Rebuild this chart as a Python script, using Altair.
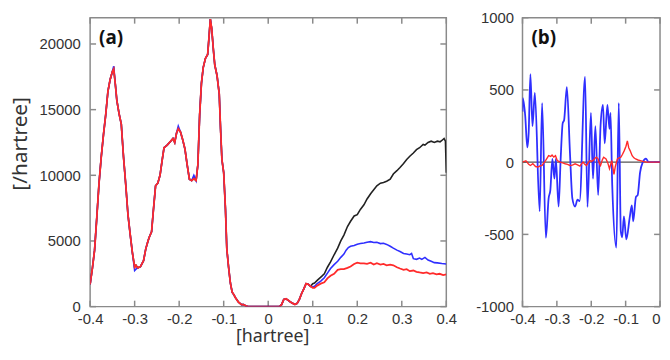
import altair as alt
import pandas as pd

# ---------------- Panel (a) data ----------------
a_low_x = [-0.400, -0.395, -0.390, -0.385, -0.380, -0.375, -0.370, -0.365, -0.360, -0.355,
           -0.350, -0.347, -0.343, -0.340, -0.335, -0.330, -0.325, -0.320, -0.315, -0.310,
           -0.305, -0.300, -0.297, -0.293, -0.287, -0.280, -0.275, -0.270, -0.267, -0.262,
           -0.258, -0.253, -0.248, -0.243, -0.238, -0.234, -0.227, -0.219, -0.214, -0.210,
           -0.206, -0.202, -0.197, -0.192, -0.187, -0.182, -0.177, -0.172, -0.167, -0.162,
           -0.158, -0.154, -0.150, -0.146, -0.141, -0.136, -0.133, -0.130, -0.127, -0.123,
           -0.120, -0.115, -0.110, -0.107, -0.104, -0.100, -0.096, -0.093, -0.089, -0.085,
           -0.081, -0.077, -0.074, -0.067, -0.060, -0.055, -0.050, -0.045, -0.030, -0.010,
           0.010, 0.025, 0.030, 0.035, 0.040, 0.045, 0.050, 0.055, 0.060, 0.065,
           0.070, 0.075, 0.080, 0.085, 0.090, 0.095]
a_low_y = [1700, 2900, 4300, 6800, 9400, 11400, 13100, 14600, 16400, 17300,
           17900, 18100, 16800, 15700, 14700, 13900, 11400, 9300, 7000, 5500,
           4100, 3000, 3150, 2950, 3050, 3500, 4400, 5000, 5300, 5700,
           7300, 9200, 9400, 10000, 11200, 12100, 12300, 12600, 12800, 12500,
           13200, 13550, 13300, 12700, 12000, 10800, 9700, 9600, 9750, 9600,
           10800, 14600, 17000, 18200, 18900, 19200, 20500, 21900, 21200, 19500,
           18400, 17600, 16200, 13500, 11200, 10200, 7400, 4400, 3000, 1800,
           1100, 900, 700, 350, 150, 150, 50, 0, 0, 0,
           0, 0, 150, 550, 600, 480, 350, 250, 170, 250,
           550, 1000, 1350, 1750, 1700, 1550]
a_blue_low_adjust = {-0.347: 18300, -0.300: 2750, -0.297: 2850, -0.202: 13750, -0.167: 10000}

a_black_hi_x = [0.100, 0.104, 0.110, 0.115, 0.120, 0.126, 0.133, 0.140, 0.148, 0.156, 0.163, 0.170,
                0.178, 0.185, 0.193, 0.200, 0.207, 0.215, 0.222, 0.230, 0.237, 0.244, 0.252, 0.259,
                0.266, 0.274, 0.281, 0.289, 0.296, 0.304, 0.311, 0.318, 0.326, 0.333, 0.340, 0.348,
                0.352, 0.359, 0.366, 0.373, 0.380, 0.386, 0.390, 0.395, 0.398, 0.400]
a_black_hi_y = [1750, 1800, 2000, 2150, 2300, 2500, 3000, 3400, 3950, 4450, 5000, 5450,
                6100, 6500, 6900, 7000, 7400, 7750, 8200, 8600, 8900, 9200, 9400, 9450,
                9550, 9700, 10100, 10350, 10600, 10900, 11200, 11450, 11700, 11950, 12100, 12350,
                12300, 12500, 12600, 12500, 12600, 12550, 12650, 12800, 12600, 10200]

a_blue_hi_x = [0.100, 0.104, 0.110, 0.118, 0.126, 0.133, 0.140, 0.148, 0.156, 0.163, 0.170,
               0.175, 0.180, 0.185, 0.193, 0.200, 0.207, 0.215, 0.222, 0.230, 0.237, 0.244,
               0.252, 0.259, 0.266, 0.274, 0.281, 0.289, 0.296, 0.304, 0.311, 0.318, 0.322,
               0.326, 0.333, 0.340, 0.345, 0.352, 0.359, 0.366, 0.373, 0.380, 0.390, 0.400]
a_blue_hi_y = [1500, 1550, 1750, 1950, 2200, 2550, 2900, 3200, 3450, 3750, 4000,
               4300, 4500, 4600, 4650, 4750, 4800, 4850, 4900, 4950, 4880, 4900,
               4800, 4820, 4740, 4600, 4450, 4300, 4200, 4050, 4000, 3950, 4050,
               3650, 3600, 3700, 3600, 3750, 3550, 3450, 3350, 3330, 3280, 3250]

a_red_hi_x = [0.100, 0.104, 0.110, 0.118, 0.126, 0.133, 0.140, 0.148, 0.156, 0.163, 0.170,
              0.178, 0.185, 0.193, 0.200, 0.207, 0.215, 0.222, 0.230, 0.237, 0.244, 0.252,
              0.259, 0.266, 0.274, 0.281, 0.289, 0.296, 0.304, 0.311, 0.318, 0.326, 0.333,
              0.340, 0.348, 0.356, 0.363, 0.370, 0.378, 0.385, 0.393, 0.400]
a_red_hi_y = [1430, 1430, 1600, 1750, 1850, 2150, 2350, 2500, 2800, 2850, 2850,
              2950, 3050, 3250, 3350, 3300, 3300, 3250, 3350, 3200, 3300, 3200,
              3250, 3150, 3200, 3150, 3000, 2900, 2800, 2850, 2700, 2750, 2650,
              2600, 2550, 2600, 2500, 2550, 2450, 2500, 2400, 2450]

a_xticks = [-0.4, -0.3, -0.2, -0.1, 0.0, 0.1, 0.2, 0.3, 0.4]
a_yticks = [0, 5000, 10000, 15000, 20000]

# ---------------- Panel (b) data ----------------
b_blue_x = [-0.400, -0.399, -0.392, -0.386, -0.382, -0.377, -0.371, -0.364, -0.350, -0.343,
            -0.332, -0.324, -0.319, -0.313, -0.307, -0.303, -0.295, -0.289, -0.283, -0.279,
            -0.271, -0.262, -0.255, -0.247, -0.240, -0.234, -0.218, -0.211, -0.201, -0.195,
            -0.188, -0.180, -0.173, -0.166, -0.161, -0.153, -0.147, -0.144, -0.139, -0.127,
            -0.120, -0.114, -0.110, -0.105, -0.098, -0.088, -0.082, -0.078, -0.070, -0.065,
            -0.058, -0.050, -0.045, -0.041, -0.033, 0.000]
b_blue_y = [350, 443, 318, 102, 204, 610, 250, 480, -341, 409,
            -523, -250, -193, 22, -114, 22, -307, 22, 270, 290,
            520, 68, -250, -307, -260, -270, 590, -310, 341, -114,
            250, -227, 250, 397, 130, 397, 230, 341, -159, -591,
            409, -480, -520, -375, -534, -380, -300, -409, -240, -228,
            -70, 0, 20, 25, 0, 0]

b_red_x = [-0.400, -0.390, -0.382, -0.377, -0.370, -0.362, -0.355, -0.348, -0.343, -0.338,
           -0.333, -0.328, -0.324, -0.318, -0.314, -0.309, -0.304, -0.299, -0.290, -0.283,
           -0.276, -0.269, -0.262, -0.255, -0.247, -0.240, -0.233, -0.228, -0.224, -0.219,
           -0.214, -0.209, -0.204, -0.199, -0.195, -0.190, -0.185, -0.180, -0.176, -0.173,
           -0.168, -0.164, -0.157, -0.152, -0.147, -0.143, -0.140, -0.137, -0.134, -0.130,
           -0.124, -0.119, -0.114, -0.109, -0.104, -0.099, -0.095, -0.091, -0.087, -0.081,
           -0.076, -0.071, -0.064, -0.057, -0.050, -0.040, 0.000]
b_red_y = [0, 10, -15, -23, -10, -30, -34, -25, -23, -5,
           11, 30, 45, 40, 50, 35, 45, 11, 0, -5,
           -11, -15, -23, -20, -11, -18, -27, -10, 0, -15,
           -23, -5, 11, 5, 11, 25, 34, 22, -10, -23,
           15, 34, 22, -5, -45, -10, 11, -40, -85, -30,
           22, 30, 34, 55, 80, 110, 147, 100, 80, 45,
           30, 22, 15, 11, 5, 0, 0]
b_zero = [0]

b_xticks = [-0.4, -0.3, -0.2, -0.1, 0.0]
b_yticks = [-1000, -500, 0, 500, 1000]

# ---------------- build tables ----------------
def frame(xs, ys):
    return pd.DataFrame({"x": xs, "y": ys})

blue_low_y = [a_blue_low_adjust.get(x, y) for x, y in zip(a_low_x, a_low_y)]
df_a_black = pd.concat([frame(a_low_x, a_low_y), frame(a_black_hi_x, a_black_hi_y)])
df_a_blue = pd.concat([frame(a_low_x, blue_low_y), frame(a_blue_hi_x, a_blue_hi_y)])
df_a_red = pd.concat([frame(a_low_x, a_low_y), frame(a_red_hi_x, a_red_hi_y)])
df_b_blue = frame(b_blue_x, b_blue_y)
df_b_red = frame(b_red_x, b_red_y)

BLACK = "#222222"
BLUE = "#2f2fff"
RED = "#ff2a2a"
GRAY = "#8a8a8a"
MINUS_FIX = "replace(format(datum.value, '{f}'), '\u2212', '-')"

WA, WB, H = 360, 139, 292
TICK = 6


def panel(width, xdom, ydom, xticks, yticks, xfmt, yfmt, xtitle, ytitle, layers, label,
          ylabelpad, ytitlepad, xalign):
    xaxis = dict(values=xticks, labelExpr=MINUS_FIX.format(f=xfmt), labelPadding=5,
                 labelFlush=False, labelOverlap=False, labelAlign=xalign)
    if xtitle:
        xaxis.update(title=xtitle, titlePadding=1, titleFontSize=18, titleX=184)
    else:
        xaxis.update(title=None)
    yaxis = dict(values=yticks, labelExpr=MINUS_FIX.format(f=yfmt), labelPadding=ylabelpad,
                 labelFlush=False, labelOverlap=False)
    if ytitle:
        yaxis.update(title=ytitle, titlePadding=ytitlepad, titleFontSize=21, titleY=127)
    else:
        yaxis.update(title=None)
    X = alt.X("x:Q", scale=alt.Scale(domain=xdom, nice=False, zero=False), axis=alt.Axis(**xaxis))
    Y = alt.Y("y:Q", scale=alt.Scale(domain=ydom, nice=False, zero=False), axis=alt.Axis(**yaxis))
    xt = pd.DataFrame({"x": xticks})
    yt = pd.DataFrame({"y": yticks})
    tick_mark = dict(color=GRAY, strokeWidth=1.5)
    ticks = [
        alt.Chart(xt).mark_rule(**tick_mark).encode(x=X, y=alt.value(H), y2=alt.value(H - TICK)),
        alt.Chart(xt).mark_rule(**tick_mark).encode(x=X, y=alt.value(0), y2=alt.value(TICK)),
        alt.Chart(yt).mark_rule(**tick_mark).encode(y=Y, x=alt.value(0), x2=alt.value(TICK)),
        alt.Chart(yt).mark_rule(**tick_mark).encode(y=Y, x=alt.value(width), x2=alt.value(width - TICK)),
    ]
    data_layers = [fn(X, Y) for fn in layers]
    txt = alt.Chart(pd.DataFrame({"t": [label]})).mark_text(
        align="left", baseline="middle", fontSize=19, fontWeight="bold",
        font="Open Sans", color="#111"
    ).encode(x=alt.value(9), y=alt.value(21), text="t:N")
    return alt.layer(*ticks, *data_layers, txt).properties(width=width, height=H)


def line(df, color, width=1.6, interp="linear"):
    def make(X, Y):
        return alt.Chart(df).mark_line(color=color, strokeWidth=width, clip=True,
                                       interpolate=interp).encode(x=X, y=Y, order="x:Q")
    return make


def zero_rule(X, Y):
    return alt.Chart(pd.DataFrame({"y": b_zero})).mark_rule(color="#555555", strokeWidth=1.3).encode(y=Y)


panel_a = panel(WA, [-0.4, 0.4], [0, 22000], a_xticks, a_yticks, ".1~f", "d",
                "[hartree]", "[/hartree]",
                [line(df_a_black, BLACK), line(df_a_blue, BLUE), line(df_a_red, RED, 1.8)],
                "(a)", 10, 9, "center")
panel_b = panel(WB, [-0.4, 0.0], [-1000, 1000], b_xticks, b_yticks, ".1~f", "d",
                None, None,
                [zero_rule, line(df_b_blue, BLUE, 1.8, "monotone"), line(df_b_red, RED, 1.4)],
                "(b)", 9, 0,
                {"condition": {"test": "datum.value === 0", "value": "right"}, "value": "center"})

chart = alt.hconcat(panel_a, panel_b, spacing=77, bounds="flush").properties(
    padding=0
).configure_view(
    stroke=GRAY, strokeWidth=1.5
).configure_axis(
    domain=False, ticks=False, tickSize=0, grid=False,
    labelFont="Liberation Sans", labelFontSize=15, labelColor="#333333",
    titleFont="Noto Sans", titleFontWeight="normal", titleColor="#333333"
)

chart.save("out.html", embed_options={"renderer": "svg", "actions": False})
